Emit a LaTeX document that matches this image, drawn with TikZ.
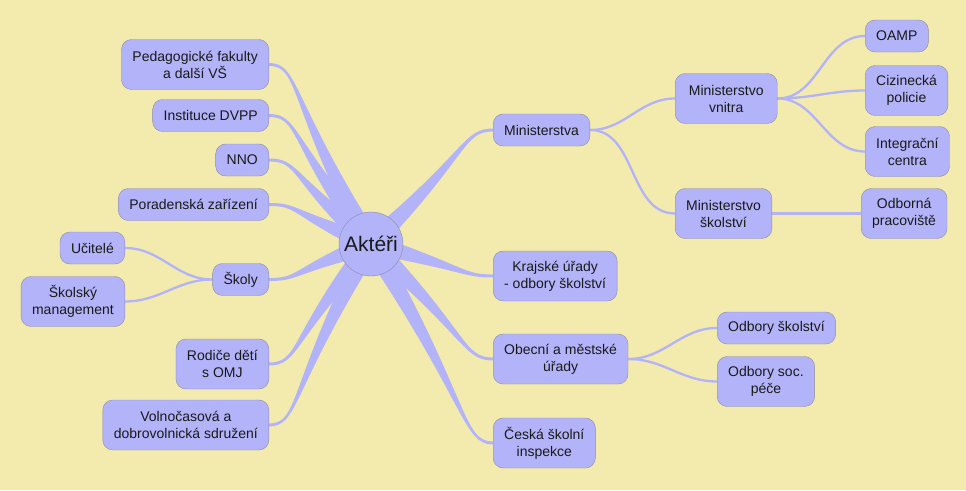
\documentclass[tikz,border=0pt]{standalone}
\usepackage{fontspec}
\setmainfont{Liberation Sans}
\usepackage{tikz}
\usetikzlibrary{calc,positioning,backgrounds}
\definecolor{paper}{RGB}{243,234,173}
\definecolor{lilac}{RGB}{179,179,250}
\definecolor{rim}{RGB}{140,140,165}
\definecolor{ink}{RGB}{25,25,25}
% tapered branch from the centre: #1 end anchor, #2 horizontal pull of the bend
\newcommand{\Branch}[2]{%
	\coordinate (b1) at ($(akt.center)!10pt!90:(#1)$);
	\coordinate (b2) at ($(akt.center)!10pt!-90:(#1)$);
	\fill[branch] (b1) .. controls ($(b1)!0.8!(#1)$) and ($(#1)+(#2,#2/20)$) .. ($(#1)+(0,#2/20)$)
		-- ($(#1)+(0,#2/-20)$) .. controls ($(#1)+(#2,#2/-20)$) and ($(b2)!0.8!(#1)$) .. (b2) -- cycle;}

\begin{document}
\begin{tikzpicture}[x=1pt,y=-1pt,% pixel-like units, y going down
			every node/.style={
				align=center,  		% "\\" breaks the lines
				text=ink,
				font=\fontsize{14}{17}\selectfont
			},
			box/.style={rectangle,rounded corners=10pt,draw=rim,fill=lilac,inner xsep=11pt,inner ysep=0pt,minimum height=32pt},
			box2/.style={box,minimum height=50pt},
			branch/.style={fill=lilac},
			every edge/.style={draw=lilac,line width=2.3pt}
		]
		\useasboundingbox (0,0) rectangle (966,490);
		\node[circle,draw=rim,fill=lilac,minimum size=64pt,inner sep=0pt,font=\fontsize{21}{24}\selectfont](akt) at (371,244){Aktéři};
		% left side
		\node[box2,anchor=east](ped) at (269,64.5){Pedagogické fakulty\\a další VŠ};
		\node[box,anchor=east](dvpp) at (269,115.5){Instituce DVPP};
		\node[box,anchor=east](nno) at (269,160){NNO};
		\node[box,anchor=east](por) at (269,204.5){Poradenská zařízení};
		\node[box,anchor=east](skoly) at (269,279.5){Školy};
		\node[box,anchor=east](ucit) at (125,248){Učitelé};
		\node[box2,anchor=east](mgmt) at (125,301.5){Školský\\management};
		\node[box2,anchor=east](rod) at (269,364){Rodiče dětí\\s OMJ};
		\node[box2,anchor=east](vol) at (269,425){Volnočasová a\\dobrovolnická sdružení};
		% right side
		\node[box,anchor=west](mst) at (493,130){Ministerstva};
		\node[box2,anchor=west,minimum width=102pt](mv) at (675,98.5){Ministerstvo\\vnitra};
		\node[box,anchor=west](oamp) at (865,36){OAMP};
		\node[box2,anchor=west](ciz) at (865,90.5){Cizinecká\\policie};
		\node[box2,anchor=west](int) at (865,151.5){Integrační\\centra};
		\node[box2,anchor=west](ms) at (675,213.5){Ministerstvo\\školství};
		\node[box2,anchor=west](odb) at (861,213.5){Odborná\\pracoviště};
		\node[box2,anchor=west](kraj) at (493,276){Krajské úřady\\- odbory školství};
		\node[box2,anchor=west](obec) at (493,359){Obecní a městské\\úřady};
		\node[box,anchor=west](osk) at (717,328){Odbory školství};
		\node[box2,anchor=west](osoc) at (717,381.5){Odbory soc.\\péče};
		\node[box2,anchor=west](csi) at (493,443){Česká školní\\inspekce};
		\begin{scope}[on background layer]
			\fill[paper] (0,0) rectangle (966,490);
			\Branch{ped.east}{30}
			\Branch{dvpp.east}{30}
			\Branch{nno.east}{30}
			\Branch{por.east}{30}
			\Branch{skoly.east}{30}
			\Branch{rod.east}{30}
			\Branch{vol.east}{30}
			\Branch{mst.west}{-30}
			\Branch{kraj.west}{-30}
			\Branch{obec.west}{-30}
			\Branch{csi.west}{-30}
			\path
			(skoly.west)edge [out=180,in=0] (ucit.east)
			(skoly.west)edge [out=180,in=0] (mgmt.east)
			(mst.east)edge [out=0,in=180] (mv.west)
			(mst.east)edge [out=0,in=180] (ms.west)
			(mv.east)edge [out=0,in=180] (oamp.west)
			(mv.east)edge [out=0,in=180] (ciz.west)
			(mv.east)edge [out=0,in=180] (int.west)
			(ms.east)edge [out=0,in=180] (odb.west)
			(obec.east)edge [out=0,in=180] (osk.west)
			(obec.east)edge [out=0,in=180] (osoc.west)
			;
		\end{scope}
	\end{tikzpicture}
\end{document}
